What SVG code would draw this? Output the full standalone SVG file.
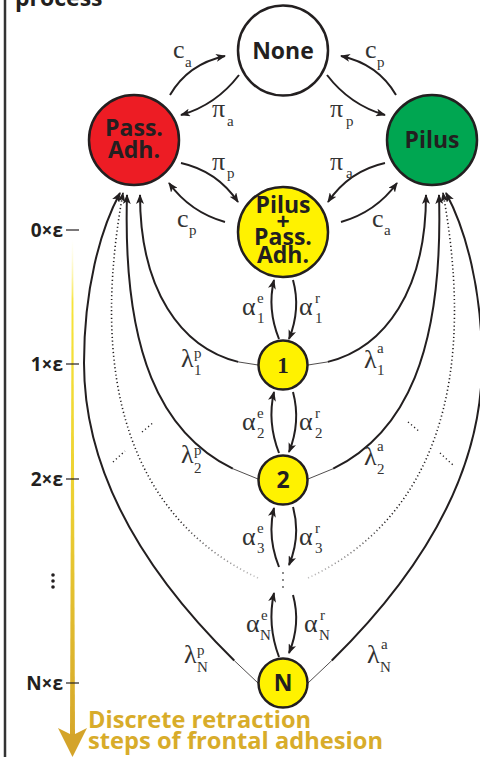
<svg xmlns="http://www.w3.org/2000/svg" width="480" height="757" viewBox="0 0 480 757">
<defs>
<style>
.nd{stroke:#231f20;stroke-width:2.5}
.lbl{font-family:"Open Sans","Liberation Sans",sans-serif;font-weight:700;font-size:23px;fill:#231f20;text-anchor:middle}
.g{font-family:"Liberation Serif",serif;font-size:26px;fill:#333}
.s{font-family:"Liberation Serif",serif;font-size:15px;fill:#333}
.e{stroke:#231f20;stroke-width:2;fill:none;marker-end:url(#ah)}
.th{stroke:#231f20;stroke-width:0.8;fill:none}
.dt{stroke:url(#fade);stroke-width:1.6;stroke-dasharray:1.2 2.6;fill:none;marker-end:url(#ah)}
.dx{stroke:#231f20;stroke-width:1.4;stroke-dasharray:1.2 2.8;fill:none}
.tk{font-family:"Open Sans","Liberation Sans",sans-serif;font-weight:700;font-size:19px;fill:#231f20;text-anchor:end}
.tl{stroke:#231f20;stroke-width:1.2}
.gold{font-family:"Open Sans","Liberation Sans",sans-serif;font-weight:700;font-size:23px;fill:#d8ac2a}
</style>
<marker id="ah" viewBox="0 0 10 8" refX="9" refY="4" markerWidth="10" markerHeight="8" markerUnits="userSpaceOnUse" orient="auto">
<path d="M0,0 L10,4 L0,8 L2.5,4 z" fill="#231f20"/>
</marker>
<linearGradient id="fade" gradientUnits="userSpaceOnUse" x1="0" y1="520" x2="0" y2="580">
<stop offset="0" stop-color="#231f20"/>
<stop offset="1" stop-color="#231f20" stop-opacity="0.25"/>
</linearGradient>
<linearGradient id="yl" gradientUnits="userSpaceOnUse" x1="0" y1="240" x2="0" y2="757">
<stop offset="0" stop-color="#fff8b0" stop-opacity="0"/>
<stop offset="0.12" stop-color="#f7e43a"/>
<stop offset="0.5" stop-color="#ecd033"/>
<stop offset="1" stop-color="#d4a42a"/>
</linearGradient>
</defs>
<rect width="480" height="757" fill="#fff"/>

<!-- frame and title -->
<line x1="5" y1="0" x2="5" y2="757" stroke="#333" stroke-width="2.5"/>
<text x="15" y="6" class="lbl" style="text-anchor:start">process</text>

<!-- timeline -->
<g id="timeline">
<polygon points="71.8,240 73.2,240 75,734 70,734" fill="url(#yl)"/>
<polygon points="58,728 70,734 75,734 87,728 72.5,757" fill="#d4a42a"/>
<line class="tl" x1="66" y1="230" x2="79" y2="230"/>
<line class="tl" x1="66" y1="364" x2="79" y2="364"/>
<line class="tl" x1="66" y1="479" x2="79" y2="479"/>
<line class="tl" x1="66" y1="683" x2="79" y2="683"/>
<text class="tk" x="63" y="237">0×ε</text>
<text class="tk" x="63" y="371">1×ε</text>
<text class="tk" x="63" y="486">2×ε</text>
<text class="tk" x="63" y="690">N×ε</text>
<circle cx="53" cy="575" r="1.8" fill="#231f20"/>
<circle cx="53" cy="581" r="1.8" fill="#231f20"/>
<circle cx="53" cy="587" r="1.8" fill="#231f20"/>
<text class="gold" x="88" y="728" textLength="223" lengthAdjust="spacingAndGlyphs">Discrete retraction</text>
<text class="gold" x="88" y="749" textLength="295" lengthAdjust="spacingAndGlyphs">steps of frontal adhesion</text>
</g>

<!-- connectors -->
<g id="connectors">
<path class="e" d="M170 95 Q188 64 225 56"/>
<path class="e" d="M239 75 Q216 105 181 115"/>
<path class="e" d="M181 163 Q217 171 238 202"/>
<path class="e" d="M225 222 Q190 212 169 183"/>
<path class="e" d="M396 95 Q378 64 341 56"/>
<path class="e" d="M327 75 Q350 105 385 115"/>
<path class="e" d="M385 163 Q349 171 328 202"/>
<path class="e" d="M341 222 Q376 212 397 183"/>

<path class="e" d="M279 339 Q267 309 274 280"/>
<path class="e" d="M293 280 Q301 309 289 339"/>
<path class="e" d="M279 453 Q267 422 274 392"/>
<path class="e" d="M293 392 Q301 422 289 452"/>
<path class="e" d="M279 567 Q267 537 274 508"/>
<path class="e" d="M293 507 Q301 536 289 565"/>
<path class="e" d="M279 657 Q267 625 274 593"/>
<path class="e" d="M293 595 Q301 624 289 653"/>

<path class="th" d="M258 365 L238.2 361.9"/>
<path class="e" d="M238.2 361.9 C180.5 347.55 140 289.5 140 195"/>
<path class="th" d="M258 479 L232.8 468.7"/>
<path class="e" d="M232.8 468.7 C160.9 433.1 122.5 352.5 127 195"/>
<path class="th" d="M258 683 L234.2 660.5"/>
<path class="e" d="M234.2 660.5 C161.8 589.4 84 486.3 84 363 C84 290 100 230 120 193"/>
<path class="dt" d="M258 578 C165 535 80 430 123 193"/>

<path class="th" d="M308 365 L327.8 361.9"/>
<path class="e" d="M327.8 361.9 C385.5 347.55 426 289.5 426 195"/>
<path class="th" d="M308 479 L333.2 468.7"/>
<path class="e" d="M333.2 468.7 C405.1 433.1 443.5 352.5 439 195"/>
<path class="th" d="M308 683 L331.8 660.5"/>
<path class="e" d="M331.8 660.5 C404.2 589.4 482 486.3 482 363 C482 290 466 230 446 193"/>
<path class="dt" d="M308 578 C401 535 486 430 443 193"/>

<path class="dx" d="M113 462 L125 451"/>
<path class="dx" d="M142 432 L154 422"/>
<path class="dx" d="M408 422 L420 432"/>
<path class="dx" d="M440 453 L453 465"/>
<circle cx="283" cy="573" r="0.9" fill="#555"/>
<circle cx="283" cy="580" r="0.9" fill="#555"/>
<circle cx="283" cy="587" r="0.9" fill="#555"/>
</g>

<!-- edge labels -->
<g id="edge-labels">
<text class="g" x="173" y="58">c</text><text class="s" x="185" y="67">a</text>
<text class="g" x="212" y="117">π</text><text class="s" x="227" y="126">a</text>
<text class="g" x="212" y="170">π</text><text class="s" x="227" y="178">p</text>
<text class="g" x="177" y="227">c</text><text class="s" x="189" y="235">p</text>
<text class="g" x="365" y="58">c</text><text class="s" x="377" y="67">p</text>
<text class="g" x="330" y="117">π</text><text class="s" x="346" y="126">p</text>
<text class="g" x="330" y="170">π</text><text class="s" x="346" y="178">a</text>
<text class="g" x="372" y="227">c</text><text class="s" x="384" y="235">a</text>

<text class="g" x="242" y="315">α</text><text class="s" x="257" y="303">e</text><text class="s" x="257" y="323">1</text>
<text class="g" x="299" y="315">α</text><text class="s" x="315" y="303">r</text><text class="s" x="315" y="323">1</text>
<text class="g" x="242" y="430">α</text><text class="s" x="257" y="418">e</text><text class="s" x="257" y="438">2</text>
<text class="g" x="299" y="430">α</text><text class="s" x="315" y="418">r</text><text class="s" x="315" y="438">2</text>
<text class="g" x="242" y="545">α</text><text class="s" x="257" y="533">e</text><text class="s" x="257" y="553">3</text>
<text class="g" x="299" y="545">α</text><text class="s" x="315" y="533">r</text><text class="s" x="315" y="553">3</text>
<text class="g" x="246" y="632">α</text><text class="s" x="261" y="620">e</text><text class="s" x="260" y="640">N</text>
<text class="g" x="304" y="632">α</text><text class="s" x="320" y="620">r</text><text class="s" x="319" y="640">N</text>

<text class="g" x="181" y="367">λ</text><text class="s" x="194" y="358">p</text><text class="s" x="194" y="375">1</text>
<text class="g" x="181" y="463">λ</text><text class="s" x="194" y="455">p</text><text class="s" x="194" y="473">2</text>
<text class="g" x="184" y="663">λ</text><text class="s" x="197" y="655">p</text><text class="s" x="197" y="672">N</text>
<text class="g" x="364" y="368">λ</text><text class="s" x="377" y="353">a</text><text class="s" x="377" y="375">1</text>
<text class="g" x="364" y="465">λ</text><text class="s" x="377" y="451">a</text><text class="s" x="377" y="474">2</text>
<text class="g" x="367" y="663">λ</text><text class="s" x="381" y="649">a</text><text class="s" x="380" y="672">N</text>
</g>

<!-- nodes -->
<g id="node-none">
<circle class="nd" cx="283" cy="50.5" r="45" fill="#fff"/>
<text class="lbl" x="283" y="59">None</text>
</g>
<g id="node-passadh">
<circle class="nd" cx="134" cy="140" r="45" fill="#ed1c24"/>
<text class="lbl" x="134" y="136">Pass.</text>
<text class="lbl" x="134" y="158">Adh.</text>
</g>
<g id="node-pilus">
<circle class="nd" cx="432" cy="140" r="45" fill="#00a651"/>
<text class="lbl" x="432" y="148">Pilus</text>
</g>
<g id="node-pilus-passadh">
<circle class="nd" cx="283" cy="232" r="45" fill="#fff200"/>
<text class="lbl" x="283" y="213">Pilus</text>
<text class="lbl" x="283" y="230">+</text>
<text class="lbl" x="283" y="245">Pass.</text>
<text class="lbl" x="283" y="263">Adh.</text>
</g>
<g id="node-1">
<circle class="nd" cx="283" cy="365" r="24.5" fill="#fff200"/>
<text x="283" y="373" style="font-family:'Liberation Serif',serif;font-weight:700;font-size:23px;fill:#231f20;text-anchor:middle">1</text>
</g>
<g id="node-2">
<circle class="nd" cx="283" cy="480" r="24.5" fill="#fff200"/>
<text class="lbl" x="283" y="488">2</text>
</g>
<g id="node-N">
<circle class="nd" cx="283" cy="683" r="24.5" fill="#fff200"/>
<text class="lbl" x="283" y="691">N</text>
</g>
</svg>
